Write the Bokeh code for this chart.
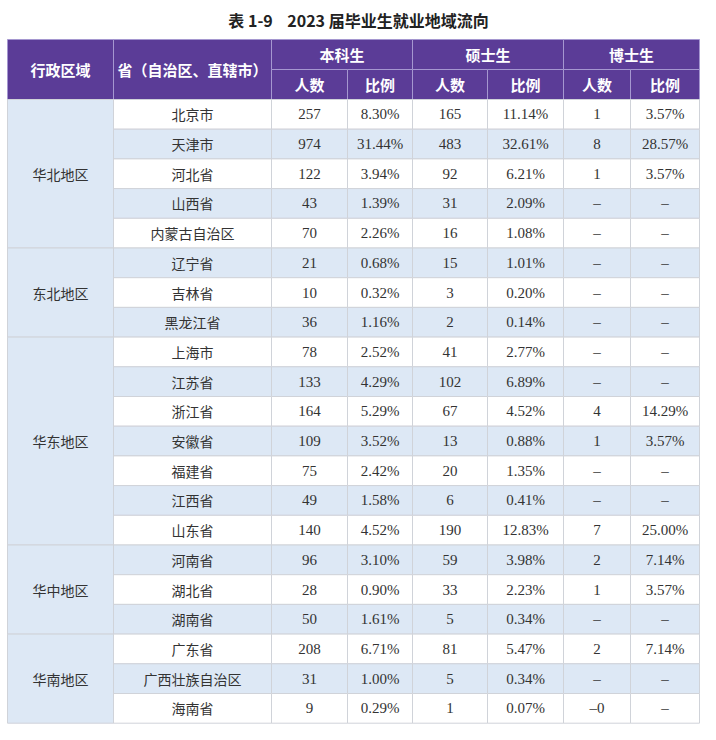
from bokeh.plotting import figure
from bokeh.models import Range1d
from bokeh.core.properties import value
from bokeh.embed import file_html
from bokeh.resources import INLINE

# ---------------- data ----------------
title_text = "表\u00a01-9\u00a0\u00a0\u00a0\u00a02023\u00a0届毕业生就业地域流向"
head_labels = ["行政区域", "省（自治区、直辖市）"]
group_labels = ["本科生", "硕士生", "博士生"]
sub_labels = ["人数", "比例"]

regions = ["华北地区", "东北地区", "华东地区", "华中地区", "华南地区"]
region_sizes = [5, 3, 7, 3, 3]
provinces = ["北京市", "天津市", "河北省", "山西省", "内蒙古自治区",
             "辽宁省", "吉林省", "黑龙江省",
             "上海市", "江苏省", "浙江省", "安徽省", "福建省", "江西省", "山东省",
             "河南省", "湖北省", "湖南省",
             "广东省", "广西壮族自治区", "海南省"]
bk_count = [257, 974, 122, 43, 70, 21, 10, 36, 78, 133, 164, 109, 75, 49, 140,
            96, 28, 50, 208, 31, 9]
bk_ratio = ["8.30%", "31.44%", "3.94%", "1.39%", "2.26%", "0.68%", "0.32%", "1.16%",
            "2.52%", "4.29%", "5.29%", "3.52%", "2.42%", "1.58%", "4.52%",
            "3.10%", "0.90%", "1.61%", "6.71%", "1.00%", "0.29%"]
ms_count = [165, 483, 92, 31, 16, 15, 3, 2, 41, 102, 67, 13, 20, 6, 190,
            59, 33, 5, 81, 5, 1]
ms_ratio = ["11.14%", "32.61%", "6.21%", "2.09%", "1.08%", "1.01%", "0.20%", "0.14%",
            "2.77%", "6.89%", "4.52%", "0.88%", "1.35%", "0.41%", "12.83%",
            "3.98%", "2.23%", "0.34%", "5.47%", "0.34%", "0.07%"]
phd_count = ["1", "8", "1", "–", "–", "–", "–", "–", "–", "–", "4", "1", "–", "–", "7",
             "2", "1", "–", "2", "–", "–0"]
phd_ratio = ["3.57%", "28.57%", "3.57%", "–", "–", "–", "–", "–", "–", "–", "14.29%",
             "3.57%", "–", "–", "25.00%", "7.14%", "3.57%", "–", "7.14%", "–", "–"]

# ---------------- layout ----------------
col_widths = [106, 158, 76, 65, 75, 76, 67, 69]
x0 = 7
edges = [x0]
for w in col_widths:
    edges.append(edges[-1] + w)
head_top, head_mid, head_bot = 39, 69, 99
row_h = 29.7
n = len(provinces)

PURPLE = "#5b3c97"
HEAD_LINE = "#a597d0"
BLUE = "#dde8f5"
BODY_LINE = "#d0d3d9"
TEXT = "#333333"
CJK = "Noto Sans CJK SC"
NUM = "Liberation Serif"

p = figure(width=700, height=724, output_backend="svg", toolbar_location=None,
           x_range=Range1d(0, 700), y_range=Range1d(724, 0),
           min_border=0, outline_line_color=None, background_fill_color="white")
p.axis.visible = False
p.grid.visible = False

# header cells
hl, hr, ht, hb = [], [], [], []
hx, hy, ht_txt = [], [], []
for c in range(2):
    hl.append(edges[c]); hr.append(edges[c + 1]); ht.append(head_top); hb.append(head_bot)
    hx.append((edges[c] + edges[c + 1]) / 2); hy.append((head_top + head_bot) / 2)
    ht_txt.append(head_labels[c])
for g in range(3):
    c = 2 + 2 * g
    hl.append(edges[c]); hr.append(edges[c + 2]); ht.append(head_top); hb.append(head_mid)
    hx.append((edges[c] + edges[c + 2]) / 2); hy.append((head_top + head_mid) / 2)
    ht_txt.append(group_labels[g])
    for s in range(2):
        hl.append(edges[c + s]); hr.append(edges[c + s + 1]); ht.append(head_mid); hb.append(head_bot)
        hx.append((edges[c + s] + edges[c + s + 1]) / 2); hy.append((head_mid + head_bot) / 2)
        ht_txt.append(sub_labels[s])
p.quad(left=hl, right=hr, top=ht, bottom=hb, fill_color=PURPLE,
       line_color=HEAD_LINE, line_width=1)

# body cells
bl, br, bt, bb, bf = [], [], [], [], []
for i in range(n):
    top = head_bot + row_h * i
    for c in range(1, 8):
        bl.append(edges[c]); br.append(edges[c + 1]); bt.append(top); bb.append(top + row_h)
        bf.append(BLUE if i % 2 == 1 else "white")
rx, ry = [], []
start = 0
for r, sz in zip(regions, region_sizes):
    top = head_bot + row_h * start
    bot = head_bot + row_h * (start + sz)
    bl.append(edges[0]); br.append(edges[1]); bt.append(top); bb.append(bot); bf.append(BLUE)
    rx.append((edges[0] + edges[1]) / 2); ry.append((top + bot) / 2)
    start += sz
p.quad(left=bl, right=br, top=bt, bottom=bb, fill_color=bf,
       line_color=BODY_LINE, line_width=1)

# header text
p.text(x=hx, y=hy, text=ht_txt, text_color="white", text_font=value(CJK),
       text_font_style="bold", text_font_size="15px",
       text_align="center", text_baseline="middle")

# region text
p.text(x=rx, y=ry, text=regions, text_color=TEXT, text_font=value(CJK),
       text_font_size="14px", text_align="center", text_baseline="middle")

# province text
ycent = [head_bot + row_h * i + row_h / 2 for i in range(n)]
p.text(x=[(edges[1] + edges[2]) / 2] * n, y=ycent, text=provinces, text_color=TEXT,
       text_font=value(CJK), text_font_size="14px",
       text_align="center", text_baseline="middle")

# numeric columns
num_cols = [[str(v) for v in bk_count], bk_ratio, [str(v) for v in ms_count], ms_ratio,
            phd_count, phd_ratio]
for k, col in enumerate(num_cols):
    c = 2 + k
    p.text(x=[(edges[c] + edges[c + 1]) / 2] * n, y=ycent, text=col, text_color=TEXT,
           text_font=value(NUM), text_font_size="15px",
           text_align="center", text_baseline="middle")

# title
p.text(x=[358], y=[19], text=[title_text], text_color="#222222", text_font=value(CJK),
       text_font_style="bold", text_font_size="16px",
       text_align="center", text_baseline="middle")

open("out.html", "w").write(file_html(p, INLINE))
